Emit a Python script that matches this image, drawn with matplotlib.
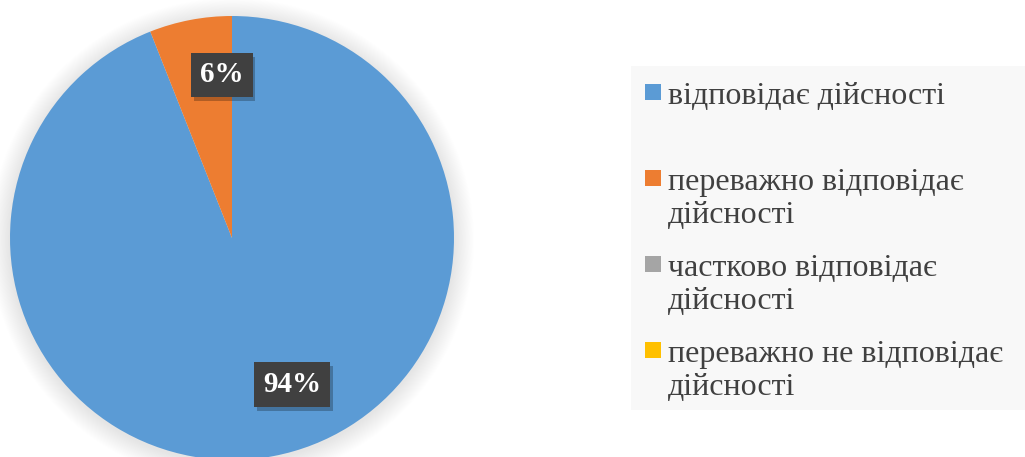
import matplotlib.pyplot as plt
import matplotlib.patheffects as pe
from matplotlib.patches import Circle, Rectangle

categories = ['відповідає дійсності', 'переважно відповідає\nдійсності',
              'частково відповідає\nдійсності', 'переважно не відповідає\nдійсності']
values = [94, 6, 0, 0]
colors = ['#5b9bd5', '#ed7d31', '#a5a5a5', '#ffc000']
label_pos = [(0.27, -0.66), (-0.045, 0.735)]

W, H = 1025, 457
fig = plt.figure(figsize=(W / 100, H / 100), dpi=100)
fig.patch.set_facecolor('white')

# pie axes: centre (232, 238) px, radius 222 px
cx, cy, r = 232, H - 238, 222
lim = 1.2
ax = fig.add_axes([(cx - r * lim) / W, (cy - r * lim) / H, 2 * r * lim / W, 2 * r * lim / H])

wedges, _ = ax.pie(values, colors=colors, startangle=90, counterclock=False, radius=1,
                   wedgeprops=dict(linewidth=0))
ax.set_xlim(-lim, lim)
ax.set_ylim(-lim, lim)
ax.set_aspect('equal')
ax.axis('off')

# soft glow around the pie
for i in range(26):
    ax.add_patch(Circle((0.0, -0.01), 1 + 0.0035 * (i + 1), color='black', alpha=0.005, lw=0, zorder=0))

for v, (x, y) in zip(values, label_pos):
    t = ax.text(x, y, f'{v}%', ha='center', va='center', color='white', fontsize=21,
                fontweight='bold', family='Liberation Serif', zorder=5,
                bbox=dict(boxstyle='square,pad=0.3', fc='#404040', ec='none'))
    t.get_bbox_patch().set_path_effects([pe.SimplePatchShadow(offset=(2, -3), alpha=0.25, shadow_rgbFace='black'),
                                         pe.Normal()])

# legend panel
fig.patches.append(Rectangle((631 / W, 1 - 410 / H), (W - 631) / W, 344 / H,
                             transform=fig.transFigure, fc='#f8f8f8', ec='none', zorder=0))
entry_y = [92, 178, 264, 350]
for cat, col, y in zip(categories, colors, entry_y):
    fig.patches.append(Rectangle((645 / W, 1 - (y + 8) / H), 16 / W, 16 / H,
                                 transform=fig.transFigure, fc=col, ec='none', zorder=1))
    fig.text(668 / W, 1 - (y - 10) / H, cat, ha='left', va='top', fontsize=23,
             family='Liberation Serif', color='#404040', linespacing=1.2)

fig.savefig('out.png', dpi=100)
